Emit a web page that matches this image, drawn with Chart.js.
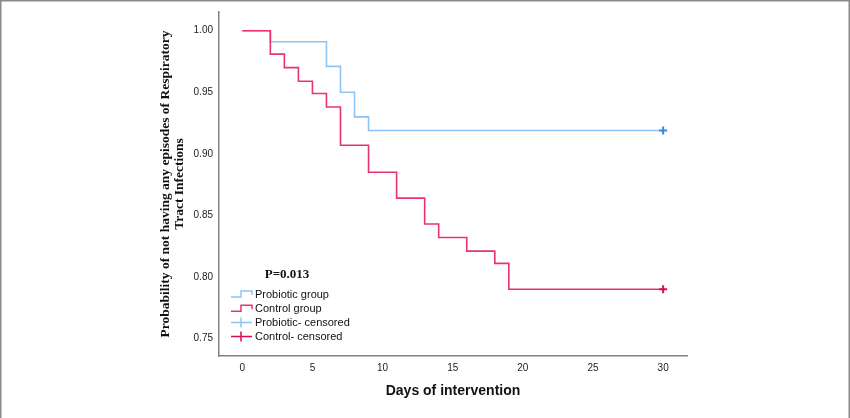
<!DOCTYPE html>
<html>
<head>
<meta charset="utf-8">
<script src="https://cdn.jsdelivr.net/npm/chart.js@4"></script>
<style>
  html, body { margin: 0; padding: 0; background: #fff; }
  #kmChart { display: block; }
</style>
</head>
<body>
<canvas id="kmChart" width="850" height="418"></canvas>
<script>
// Kaplan-Meier steps
const probioticDays = [0, 2, 6, 7, 8, 9, 30];
const probioticSurv = [1.00, 0.991, 0.971, 0.950, 0.930, 0.919, 0.919];
const controlDays = [0, 2, 3, 4, 5, 6, 7, 9, 11, 13, 14, 16, 18, 19, 30];
const controlSurv = [1.00, 0.981, 0.970, 0.959, 0.949, 0.938, 0.907, 0.885, 0.864, 0.843, 0.832, 0.821, 0.811, 0.790, 0.790];
const censoredDay = [30];
const probioticCensored = [0.919];
const controlCensored = [0.790];

const xTicks = [0, 5, 10, 15, 20, 25, 30];
const yTicks = [0.75, 0.80, 0.85, 0.90, 0.95, 1.00];
const legendLabels = ['Probiotic group', 'Control group', 'Probiotic- censored', 'Control- censored'];
const pValueText = 'P=0.013';

const blueLine = '#8ec4f4';
const redLine = '#e8336f';
const blueMark = '#3d86de';
const redMark = '#d3104b';

const toPoints = (xs, ys) => xs.map((x, i) => ({ x: x, y: ys[i] }));

// frame around the figure + the in-plot legend
const extrasPlugin = {
    id: 'extras',
    afterDraw(chart) {
        const ctx = chart.ctx;
        const a = chart.chartArea;
        ctx.save();
        ctx.fillStyle = '#8a8a8a';
        ctx.fillRect(0, 0, 850, 1.5);
        ctx.fillRect(0, 0, 1.5, 418);
        ctx.fillRect(848.5, 0, 1.5, 418);

        const lx = a.left + 12;
        ctx.fillStyle = '#111';
        ctx.font = 'bold 13px "Liberation Serif", "Times New Roman", serif';
        ctx.textAlign = 'center';
        ctx.textBaseline = 'middle';
        ctx.fillText(pValueText, a.left + 68, a.top + 263);

        const colors = [blueLine, redLine, blueLine, redMark];
        ctx.font = '11px "Liberation Sans", Arial, sans-serif';
        ctx.textAlign = 'left';
        legendLabels.forEach((label, i) => {
            const y = a.top + 282 + i * 14.2;
            ctx.strokeStyle = colors[i];
            ctx.lineWidth = 1.5;
            ctx.beginPath();
            if (i < 2) {
                ctx.moveTo(lx, y + 3);
                ctx.lineTo(lx + 10, y + 3);
                ctx.lineTo(lx + 10, y - 3);
                ctx.lineTo(lx + 21, y - 3);
                ctx.lineTo(lx + 21, y + 1);
            } else {
                ctx.moveTo(lx, y);
                ctx.lineTo(lx + 21, y);
                ctx.moveTo(lx + 10, y - 5);
                ctx.lineTo(lx + 10, y + 5);
            }
            ctx.stroke();
            ctx.fillStyle = '#111';
            ctx.fillText(label, lx + 24, y + 0.5);
        });
        ctx.restore();
    }
};

const ctx1 = document.getElementById('kmChart').getContext('2d');
new Chart(ctx1, {
    type: 'line',
    data: {
        datasets: [
            {
                label: 'Control- censored',
                type: 'scatter',
                data: toPoints(censoredDay, controlCensored),
                pointStyle: 'cross',
                pointRadius: 4,
                borderWidth: 2,
                borderColor: redMark,
                order: 0
            },
            {
                label: 'Probiotic- censored',
                type: 'scatter',
                data: toPoints(censoredDay, probioticCensored),
                pointStyle: 'cross',
                pointRadius: 4,
                borderWidth: 2,
                borderColor: blueMark,
                order: 1
            },
            {
                label: 'Control group',
                data: toPoints(controlDays, controlSurv),
                stepped: true,
                borderColor: redLine,
                borderWidth: 1.6,
                pointRadius: 0,
                fill: false,
                order: 2
            },
            {
                label: 'Probiotic group',
                data: toPoints(probioticDays, probioticSurv),
                stepped: true,
                borderColor: blueLine,
                borderWidth: 1.6,
                pointRadius: 0,
                fill: false,
                order: 3
            }
        ]
    },
    options: {
        responsive: false,
        animation: false,
        devicePixelRatio: 1,
        layout: { padding: { left: 0, top: 12, right: 163, bottom: 0 } },
        plugins: {
            legend: { display: false },
            tooltip: { enabled: false }
        },
        scales: {
            x: {
                type: 'linear',
                min: -1.66,
                max: 31.7,
                grid: { display: false, drawTicks: false },
                border: { display: true, color: '#7a8585', width: 1.5 },
                afterBuildTicks: s => { s.ticks = xTicks.map(v => ({ value: v })); },
                afterFit: s => { s.height = 62; },
                ticks: {
                    padding: 6,
                    color: '#222',
                    font: { family: '"Liberation Sans", Arial, sans-serif', size: 10 }
                },
                title: {
                    display: true,
                    text: 'Days of intervention',
                    color: '#111',
                    font: { family: '"Liberation Sans", Arial, sans-serif', size: 14, weight: 'bold' },
                    padding: { top: 0, bottom: 18 }
                }
            },
            y: {
                type: 'linear',
                min: 0.7358,
                max: 1.0152,
                grid: { display: false, drawTicks: false },
                border: { display: true, color: '#7a8585', width: 1.5 },
                afterBuildTicks: s => { s.ticks = yTicks.map(v => ({ value: v })); },
                afterFit: s => { s.width = 219; },
                ticks: {
                    padding: 6,
                    color: '#222',
                    font: { family: '"Liberation Sans", Arial, sans-serif', size: 10 },
                    callback: v => v.toFixed(2)
                },
                title: {
                    display: true,
                    text: ['Probability of not having any episodes of Respiratory', 'Tract Infections'],
                    color: '#111',
                    font: { family: '"Liberation Serif", "Times New Roman", serif', size: 13.5, weight: 'bold', lineHeight: 1.0 },
                    padding: { top: 159, bottom: 0 }
                }
            }
        }
    },
    plugins: [extrasPlugin]
});
</script>
</body>
</html>
